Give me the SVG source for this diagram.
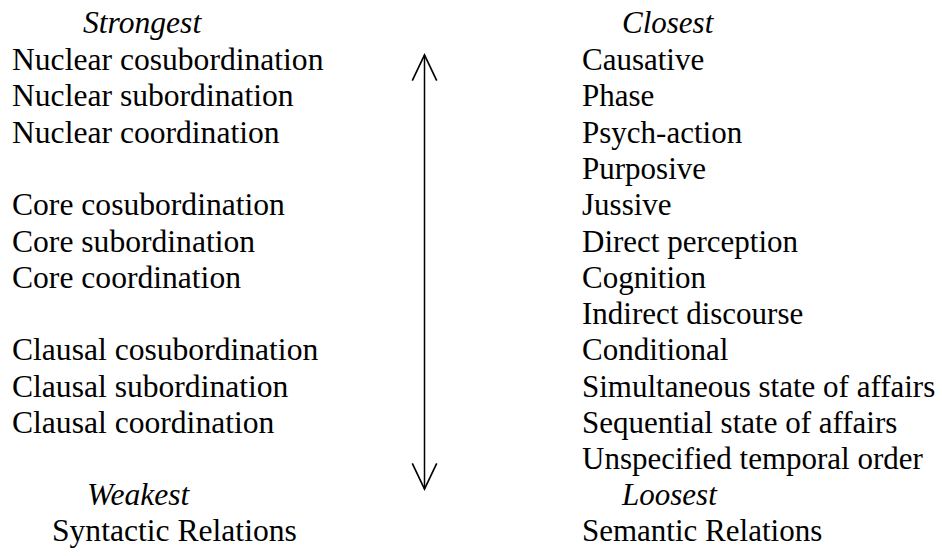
<svg xmlns="http://www.w3.org/2000/svg" width="942" height="556" viewBox="0 0 942 556">
  <defs>
    <style>
      text { font-family: "Liberation Serif", "Times New Roman", serif; fill: #000; }
      .l { font-size: 31.6px; }
      .r { font-size: 31px; }
      .it { font-style: italic; }
      .conn { stroke: #000; stroke-width: 1.5; fill: none; }
    </style>
    <marker id="vhead" markerUnits="userSpaceOnUse" orient="auto-start-reverse" refX="0" refY="0" markerWidth="30" markerHeight="30" viewBox="-25 -13 27 26" overflow="visible">
      <path d="M-23,-11 L0,0 L-23,11" fill="none" stroke="#000" stroke-width="1.5"/>
    </marker>
  </defs>
  <rect width="942" height="556" fill="#fff"/>

  <g id="syntactic" class="l">
    <text class="it" x="83" y="33">Strongest</text>
    <text x="12" y="70">Nuclear cosubordination</text>
    <text x="12" y="106.3">Nuclear subordination</text>
    <text x="12" y="142.6">Nuclear coordination</text>
    <text x="12" y="215.2">Core cosubordination</text>
    <text x="12" y="251.5">Core subordination</text>
    <text x="12" y="287.8">Core coordination</text>
    <text x="12" y="360.4">Clausal cosubordination</text>
    <text x="12" y="396.7">Clausal subordination</text>
    <text x="12" y="433">Clausal coordination</text>
    <text class="it" x="87" y="505">Weakest</text>
    <text x="52" y="541">Syntactic Relations</text>
  </g>

  <g id="semantic" class="r">
    <text class="it" x="622" y="33">Closest</text>
    <text x="582" y="70">Causative</text>
    <text x="582" y="106.3">Phase</text>
    <text x="582" y="142.6">Psych-action</text>
    <text x="582" y="178.9">Purposive</text>
    <text x="582" y="215.2">Jussive</text>
    <text x="582" y="251.5">Direct perception</text>
    <text x="582" y="287.8">Cognition</text>
    <text x="582" y="324.1">Indirect discourse</text>
    <text x="582" y="360.4">Conditional</text>
    <text x="582" y="396.7">Simultaneous state of affairs</text>
    <text x="582" y="433">Sequential state of affairs</text>
    <text x="582" y="469.3">Unspecified temporal order</text>
    <text class="it" x="622" y="505">Loosest</text>
    <text x="582" y="541">Semantic Relations</text>
  </g>

  <g id="connectors">
    <line class="conn" x1="424.5" y1="489" x2="424.5" y2="55" marker-start="url(#vhead)" marker-end="url(#vhead)"/>
  </g>
</svg>
